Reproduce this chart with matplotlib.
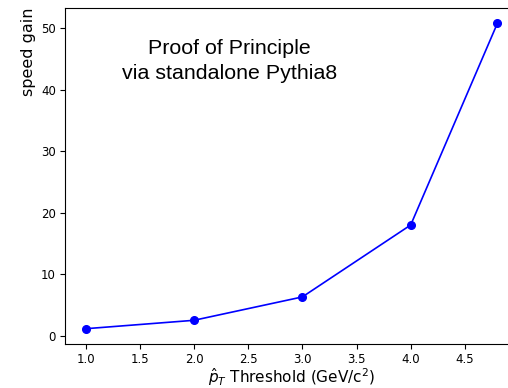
import numpy as np
import matplotlib
matplotlib.use('Agg')
import matplotlib.pyplot as plt

# pT threshold scan vs speed gain
pt_threshold = [1.0, 2.0, 3.0, 4.0, 4.8]
speed_gain = [1.13, 2.5, 6.3, 18.0, 50.8]

W, H = 508, 388
fig = plt.figure(figsize=(W/100., H/100.), dpi=100)
# axes extend a little past the right edge (reference is cropped there)
ax = fig.add_axes([65./W, 1-344./H, (518.-65.)/W, (344.-8.)/H])

ax.plot(pt_threshold, speed_gain, '-o', color='#0000ff', lw=1.2, ms=5.5)

ax.text(2.33, 44.6, 'Proof of Principle\nvia standalone Pythia8',
        ha='center', va='center', multialignment='center',
        fontsize=15.4, family='Liberation Sans', linespacing=1.4)

ax.set_xticks([1.0, 1.5, 2.0, 2.5, 3.0, 3.5, 4.0, 4.5])
ax.set_yticks([0, 10, 20, 30, 40, 50])
ax.tick_params(labelsize=8.5, length=3.5, width=0.8, pad=3)
ax.set_xlabel(r'$\hat{p}_T$ Threshold (GeV/c$^2$)', fontsize=11, labelpad=0)
ax.set_ylabel('speed gain', fontsize=11.5, loc='top')

fig.savefig('out.png', dpi=100)
